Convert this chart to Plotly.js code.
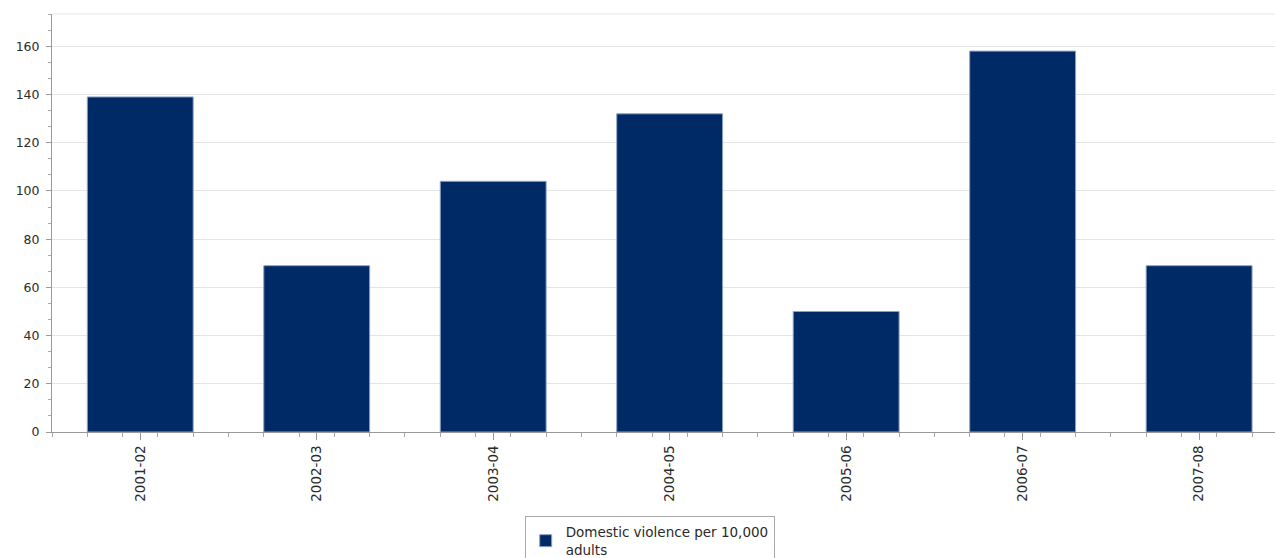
<!DOCTYPE html>
<html>
<head>
<meta charset="utf-8">
<script src="https://cdn.plot.ly/plotly-3.0.1.min.js"></script>
<style>html,body{margin:0;padding:0;background:#fff;}#chart{width:1277px;height:558px;}</style>
</head>
<body>
<div id="chart"></div>
<script>
const categories = ["2001-02", "2002-03", "2003-04", "2004-05", "2005-06", "2006-07", "2007-08"];
const values = [139, 69, 104, 132, 50, 158, 69];
const seriesName = "Domestic violence per 10,000<br>adults";
const yTicks = [0, 20, 40, 60, 80, 100, 120, 140, 160];

const trace = {
  type: "bar",
  x: categories,
  y: values,
  name: seriesName,
  marker: {color: "#002a66", line: {color: "#8fa3c4", width: 1}},
  showlegend: true,
  hoverinfo: "x+y"
};
const helper = {
  type: "scatter", x: [0], y: [0], xaxis: "x2", mode: "markers",
  marker: {opacity: 0}, showlegend: false, hoverinfo: "skip"
};

const layout = {
  width: 1277, height: 558,
  margin: {l: 52, r: 2, t: 14, b: 126, autoexpand: false},
  paper_bgcolor: "#fff", plot_bgcolor: "#fff",
  font: {family: "DejaVu Sans, Verdana, sans-serif", size: 12, color: "#2a2a2a"},
  bargap: 0.4,
  xaxis: {
    type: "category", range: [-0.5, 6.43],
    tickangle: -90, ticks: "outside", ticklen: 7, tickcolor: "#999",
    showline: true, linecolor: "#999", showgrid: false,
    tickfont: {size: 13.5, color: "#2a2a2a"}, fixedrange: true
  },
  xaxis2: {
    overlaying: "x", range: [-0.5, 6.43], dtick: 0.2, tick0: -0.5,
    ticks: "outside", ticklen: 4, tickcolor: "#aaa",
    showticklabels: false, showgrid: false, showline: false, zeroline: false,
    anchor: "y", side: "bottom", fixedrange: true
  },
  yaxis: {
    range: [0, 173.4], tickvals: yTicks, ticktext: yTicks.map(String),
    ticks: "outside", ticklen: 5, tickcolor: "#999", ticklabelstandoff: 4,
    showline: true, linecolor: "#999", mirror: false,
    showgrid: true, gridcolor: "#e4e4e4", gridwidth: 1, zeroline: false,
    minor: {dtick: 20/3, tick0: 0, ticks: "outside", ticklen: 3, tickcolor: "#aaa", showgrid: false},
    tickfont: {size: 12.5, color: "#2a2a2a"}, fixedrange: true
  },
  shapes: [{type: "line", xref: "paper", yref: "paper", x0: 0, x1: 1, y0: 1, y1: 1, line: {color: "#e4e4e4", width: 1}}],
  legend: {
    orientation: "h", x: 0.3865, xanchor: "left", y: -0.2, yanchor: "top",
    bordercolor: "#aaa", borderwidth: 1, bgcolor: "#fff",
    font: {size: 13.5, color: "#2a2a2a"}
  }
};

Plotly.newPlot("chart", [trace, helper], layout, {displayModeBar: false, staticPlot: true});
</script>
</body>
</html>
